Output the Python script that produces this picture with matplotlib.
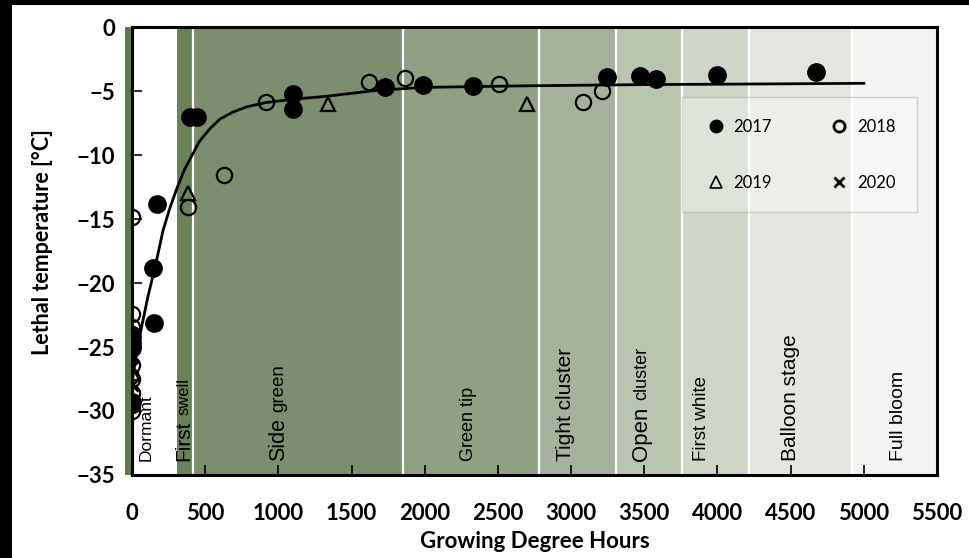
import matplotlib
matplotlib.use("Agg")
import matplotlib.pyplot as plt
from matplotlib.patches import Rectangle
from matplotlib.lines import Line2D

# ---------------- data ----------------
stage_names = ["Dormant", "First swell", "Side green", "Green tip", "Tight cluster",
               "Open cluster", "First white", "Balloon stage", "Full bloom"]
stage_start = [0, 307, 420, 1853, 2783, 3305, 3760, 4218, 4920]
stage_end = [307, 420, 1853, 2783, 3305, 3760, 4218, 4920, 5500]
stage_colors = ["#ffffff", "#6a8257", "#7b8f6e", "#8fa083", "#a6b29b",
                "#bac5b0", "#cfd6c8", "#e2e6de", "#f3f4f1"]
stage_label_x = [95, 355, 1000, 2300, 2965, 3480, 3890, 4500, 5240]

gdh_2017 = [0, 0, 0, 0, 150, 143, 170, 395, 445, 1098, 1098, 1727, 1986, 2327,
            3242, 3468, 3577, 4000, 4676]
lt_2017 = [-24.2, -24.7, -25.1, -29.3, -23.1, -18.8, -13.8, -7.0, -7.0, -5.2, -6.4,
           -4.7, -4.5, -4.6, -3.9, -3.8, -4.1, -3.75, -3.5]

gdh_2018 = [0, 0, 0, 0, 0, 0, 0, 0, 0, 380, 628, 915, 1617, 1863, 2505, 3078, 3208]
lt_2018 = [-14.85, -22.4, -23.4, -24.0, -26.4, -27.5, -28.6, -29.5, -30.0, -14.05,
           -11.6, -5.85, -4.3, -4.0, -4.45, -5.85, -5.0]

gdh_2019 = [0, 0, 380, 1338, 2696]
lt_2019 = [-23.8, -27.0, -13.0, -6.0, -6.0]

gdh_2020 = [0, 0, 0]
lt_2020 = [-25.6, -26.6, -28.0]

fit_gdh = [0, 34, 68, 110, 157, 212, 260, 307, 360, 416, 460, 532, 600, 689, 780,
           915, 1098, 1338, 1672, 1986, 2650, 3500, 4300, 5000]
fit_lt = [-27.8, -25.2, -23.3, -21.0, -18.8, -15.9, -14.1, -12.6, -11.1, -9.9, -8.95,
          -7.95, -7.2, -6.65, -6.25, -5.9, -5.65, -5.4, -4.95, -4.72, -4.6, -4.5,
          -4.45, -4.4]

x_ticks = list(range(0, 5501, 500))
y_ticks = list(range(-35, 1, 5))

# ---------------- figure ----------------
W, H = 969, 558
fig = plt.figure(figsize=(W / 100, H / 100), dpi=100)
fig.patch.set_facecolor("black")
fig.add_artist(Rectangle((12 / W, 0), 1 - 12 / W, 1 - 5 / H, transform=fig.transFigure,
                         facecolor="white", edgecolor="none", zorder=0))

ax = fig.add_axes([132 / W, (H - 475) / H, (937 - 132) / W, (475 - 27) / H])
ax.set_xlim(0, 5500)
ax.set_ylim(-35, 0)

# thin strip left of the axis
ax.axvspan(-48, 0, color="#5e7a4c", lw=0, clip_on=False, zorder=0)

for s, e, c in zip(stage_start, stage_end, stage_colors):
    ax.axvspan(s, e, color=c, lw=0, zorder=0)
for b in stage_start[2:]:
    ax.axvline(b, color="white", lw=1.6, zorder=0.5)

# stage labels (some with two font sizes)
label_sizes = {
    "Dormant": [(12.5, "Dormant")],
    "First swell": [(15, "First"), (12, "swell")],
    "Side green": [(15.5, "Side"), (13.5, "green")],
    "Green tip": [(13, "Green tip")],
    "Tight cluster": [(15, "Tight cluster")],
    "Open cluster": [(16, "Open"), (13, "cluster")],
    "First white": [(13.5, "First white")],
    "Balloon stage": [(15, "Balloon stage")],
    "Full bloom": [(14, "Full bloom")],
}
renderer = fig.canvas.get_renderer()
for name, lx in zip(stage_names, stage_label_x):
    parts = label_sizes[name]
    offset = 0.0
    for fs, word in parts:
        t = ax.annotate(word, xy=(lx, -33.9), xycoords="data",
                        xytext=(0, offset), textcoords="offset pixels",
                        rotation=90, ha="center", va="bottom",
                        fontsize=fs, family="Liberation Sans", color="black",
                        zorder=1)
        bb = t.get_window_extent(renderer)
        offset += bb.height + fs * 0.28 * 100 / 72

ms = dict(linestyle="none", zorder=4)
ax.plot(gdh_2018, lt_2018, marker="o", ms=11, mfc="none", mec="black", mew=1.6, **ms)
ax.plot(gdh_2019, lt_2019, marker="^", ms=10, mfc="none", mec="black", mew=1.6, **ms)
ax.plot(gdh_2020, lt_2020, marker="x", ms=9, mec="black", mew=2, **ms)
ax.plot(gdh_2017, lt_2017, marker="o", ms=12.5, mfc="black", mec="black", **ms)
ax.plot(fit_gdh, fit_lt, color="black", lw=2, zorder=5, solid_joinstyle="round")

# axes styling
for sp in ax.spines.values():
    sp.set_linewidth(2.2)
    sp.set_color("black")
ax.set_xticks(x_ticks)
ax.set_yticks(y_ticks)
ax.tick_params(axis="both", direction="in", length=7, width=1.2, top=False, right=False)
ax.tick_params(axis="x", pad=20)
ax.tick_params(axis="y", pad=12)
for lab in ax.get_xticklabels() + ax.get_yticklabels():
    lab.set_fontfamily("Lato")
    lab.set_fontweight("bold")
    lab.set_fontsize(16)

ax.set_xlabel("Growing Degree Hours", fontsize=16, fontweight="bold", family="Lato")
ax.set_ylabel("Lethal temperature [°C]", fontsize=15.5, fontweight="bold", family="Lato")
ax.xaxis.set_label_coords(0.5, -0.125)
ax.yaxis.set_label_coords(-0.098, 0.52)

# legend: row 1 -> 2017, 2018 ; row 2 -> 2019, 2020 (column-major order)
leg_labels = ["2017", "2019", "2018", "2020"]
handles = [
    Line2D([], [], marker="o", ms=9, mfc="black", mec="black", ls="none"),
    Line2D([], [], marker="^", ms=8, mfc="none", mec="black", mew=1.2, ls="none"),
    Line2D([], [], marker="o", ms=8, mfc="none", mec="black", mew=2, ls="none"),
    Line2D([], [], marker="x", ms=7, mec="black", mew=2, ls="none"),
]
leg = ax.legend(handles, leg_labels, ncol=2,
                loc="upper left", bbox_to_anchor=(0.683, 0.844), borderaxespad=0,
                prop={"family": "Lato", "size": 12}, borderpad=1.3, handlelength=1.5,
                handletextpad=0.3, columnspacing=3.3, labelspacing=2.4,
                fancybox=False, framealpha=0.35, facecolor="white", edgecolor="#888888")
leg.get_frame().set_linewidth(1.0)

fig.savefig("out.png", dpi=100, facecolor=fig.get_facecolor())
